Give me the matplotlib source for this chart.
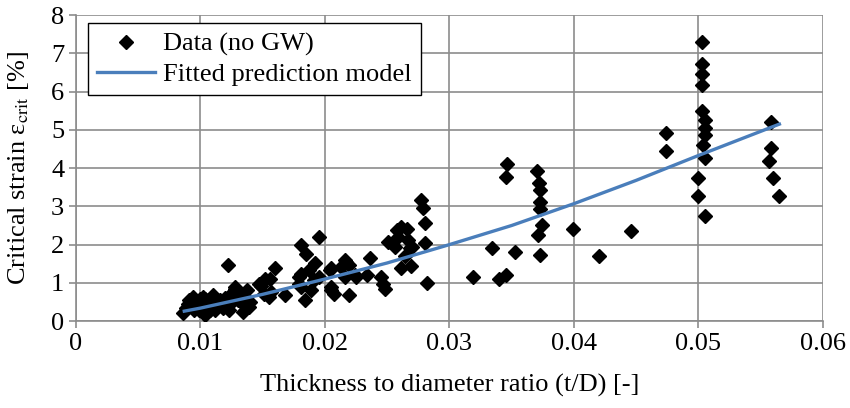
import matplotlib.pyplot as plt

# ---------------- data ----------------
# measured points: t/D ratio vs critical strain [%]
td_data = [
    0.0086, 0.0088, 0.0090, 0.0091, 0.0094, 0.0093, 0.0095, 0.0097, 0.0099, 0.0100,
    0.0102, 0.0102, 0.0104, 0.0104, 0.0106, 0.0108, 0.0110, 0.0110, 0.0112, 0.0113,
    0.0115, 0.0116, 0.0118, 0.0120, 0.0122, 0.0123, 0.0124, 0.0126, 0.0128, 0.0128,
    0.0130, 0.0131, 0.0132, 0.0134, 0.0134, 0.0136, 0.0137, 0.0139, 0.0140,
    0.0147, 0.0149, 0.0151, 0.0152, 0.0155, 0.0156, 0.0157, 0.0160, 0.0168, 0.0179,
    0.0179, 0.0181, 0.0181, 0.0181, 0.0184, 0.0185, 0.0187, 0.0189, 0.0191, 0.0192,
    0.0195, 0.0195, 0.0204, 0.0205, 0.0205, 0.0205, 0.0207, 0.0213, 0.0216, 0.0216,
    0.0217, 0.0219, 0.0219, 0.0224, 0.0225, 0.0234, 0.0236, 0.0245, 0.0247, 0.0248,
    0.0251, 0.0256, 0.0258, 0.0259, 0.0261, 0.0261, 0.0264, 0.0266, 0.0267, 0.0268,
    0.0269, 0.0270, 0.0277, 0.0279, 0.0280, 0.0280, 0.0282,
    0.0319, 0.0334, 0.0340, 0.0345, 0.0346, 0.0345, 0.0353,
    0.0370, 0.0372, 0.0373, 0.0373, 0.0373, 0.0374, 0.0371, 0.0373,
    0.0399, 0.0420, 0.0446, 0.0474, 0.0474,
    0.0503, 0.0503, 0.0503, 0.0503, 0.0503, 0.0505, 0.0505, 0.0505, 0.0504, 0.0505,
    0.0500, 0.0500, 0.0505,
    0.0558, 0.0558, 0.0557, 0.0560, 0.0565,
]
strain_data = [
    0.20, 0.35, 0.46, 0.55, 0.63, 0.40, 0.28, 0.50, 0.29, 0.58,
    0.63, 0.24, 0.15, 0.59, 0.42, 0.30, 0.68, 0.63, 0.29, 0.48,
    0.42, 0.55, 0.35, 0.60, 1.46, 0.29, 0.45, 0.75, 0.85, 0.90,
    0.55, 0.68, 0.64, 0.24, 0.45, 0.55, 0.80, 0.37, 0.50,
    0.98, 0.91, 0.72, 1.11, 0.63, 1.11, 0.77, 1.38, 0.68, 0.98,
    1.16, 1.98, 1.24, 0.90, 0.55, 1.75, 1.33, 0.81, 1.07, 1.51,
    1.16, 2.20, 1.33, 1.38, 0.90, 0.81, 0.72, 1.42, 1.59, 1.16,
    1.55, 1.46, 0.68, 1.20, 1.16, 1.20, 1.66, 1.16, 0.98, 0.85,
    2.07, 1.94, 2.38, 2.20, 2.46, 1.40, 1.70, 2.42, 2.11, 1.90,
    1.45, 1.94, 3.16, 2.95, 2.57, 2.04, 1.00,
    1.16, 1.91, 1.09, 1.20, 4.12, 3.77, 1.81,
    3.93, 3.61, 3.42, 3.12, 2.94, 2.52, 2.25, 1.72,
    2.40, 1.70, 2.36, 4.92, 4.46,
    7.29, 6.73, 6.47, 6.16, 5.49, 5.25, 5.06, 4.86, 4.60, 4.27,
    3.73, 3.26, 2.74,
    5.20, 4.53, 4.18, 3.74, 3.26,
]

# fitted prediction model
td_model = [0.0087, 0.010, 0.015, 0.020, 0.025, 0.030, 0.035, 0.040, 0.045, 0.050, 0.0565]
strain_model = [0.26, 0.34, 0.70, 1.10, 1.52, 2.00, 2.50, 3.07, 3.68, 4.33, 5.15]

x_ticks = [0, 0.01, 0.02, 0.03, 0.04, 0.05, 0.06]
x_ticklabels = ["0", "0.01", "0.02", "0.03", "0.04", "0.05", "0.06"]
y_ticks = [0, 1, 2, 3, 4, 5, 6, 7, 8]

GRID = "#8c8c8c"
LINE_BLUE = "#4a7ebb"
FS = 19

plt.rcParams["font.family"] = ["Liberation Serif", "DejaVu Serif"]
plt.rcParams["mathtext.fontset"] = "stix"

fig = plt.figure(figsize=(8.5, 4.08), dpi=100)
ax = fig.add_axes([0.0894, 0.213, 0.8788, 0.750])

ax.plot(td_data, strain_data, linestyle="none", marker="D", markersize=7.2,
        color="black", label="Data (no GW)", zorder=3)
ax.plot(td_model, strain_model, color=LINE_BLUE, linewidth=2.4,
        label="Fitted prediction model", zorder=4)

ax.set_xlim(0, 0.06)
ax.set_ylim(0, 8)
ax.set_xticks(x_ticks)
ax.set_xticklabels(x_ticklabels)
ax.set_yticks(y_ticks)

ax.grid(True, color=GRID, linewidth=1.2)
ax.set_axisbelow(True)
for side in ["top", "right"]:
    ax.spines[side].set_visible(False)
for side in ["left", "bottom"]:
    ax.spines[side].set_color(GRID)
    ax.spines[side].set_linewidth(1.2)
ax.tick_params(axis="both", colors=GRID, labelcolor="black", labelsize=FS,
               length=5, width=1.2, direction="out")

ax.set_xlabel("Thickness to diameter ratio (t/D) [-]", fontsize=FS, labelpad=14)
ax.set_ylabel(r"Critical strain ε$_{\mathrm{crit}}$ [%]", fontsize=FS, labelpad=14)

leg = ax.legend(loc="upper left", bbox_to_anchor=(0.016, 0.974), borderaxespad=0,
                fontsize=FS, frameon=True, fancybox=False, framealpha=1,
                edgecolor="black", handlelength=2.2, handletextpad=0.3,
                borderpad=0.35, labelspacing=0.25)
leg.get_frame().set_linewidth(1.0)

fig.savefig("out.png", dpi=100, facecolor="white")
